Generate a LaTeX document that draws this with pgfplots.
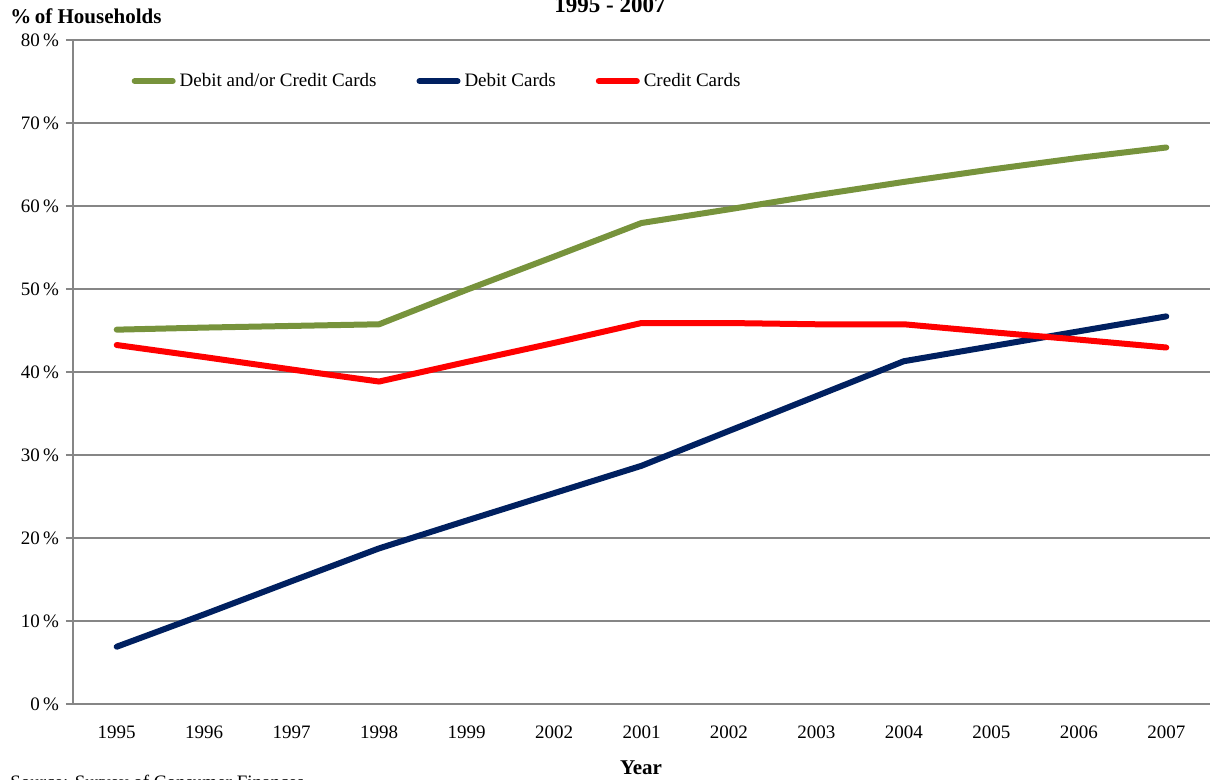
\documentclass[border=0pt]{standalone}
\usepackage{pgfplots}
\pgfplotsset{compat=1.18}
\usepackage{fontspec}
\setmainfont{Liberation Serif}
\definecolor{cgreen}{RGB}{119,147,60}
\definecolor{cnavy}{RGB}{0,32,96}
\definecolor{cred}{RGB}{255,0,0}
\definecolor{cgrid}{RGB}{134,134,134}
\begin{document}
\begin{tikzpicture}
\useasboundingbox (-36.5pt,-38pt) rectangle (570.5pt,352pt);
\clip (-36.5pt,-38pt) rectangle (570.5pt,352pt);
\begin{axis}[
  at={(0,0)}, anchor=south west,
  scale only axis, width=568.5pt, height=332pt,
  xmin=-0.5, xmax=12.5, ymin=0, ymax=80,
  axis lines*=left,
  axis line style={draw=cgrid, line width=1pt},
  xtick={0,1,2,3,4,5,6,7,8,9,10,11,12},
  xticklabels={1995,1996,1997,1998,1999,2002,2001,2002,2003,2004,2005,2006,2007},
  major x tick style={draw=none},
  extra x ticks={-0.5,0.5,1.5,2.5,3.5,4.5,5.5,6.5,7.5,8.5,9.5,10.5,11.5,12.5},
  extra x tick labels={},
  extra x tick style={major tick length=3.5pt, tick style={draw=cgrid, line width=1pt}, grid=none},
  xticklabel style={yshift=-4pt},
  ytick={0,10,...,80},
  yticklabel={\pgfmathprintnumber{\tick}\,\%},
  ymajorgrids,
  grid style={draw=cgrid, line width=1pt},
  tick align=outside,
  major tick length=3.5pt,
  ytick style={draw=cgrid, line width=1pt},
  xtick pos=bottom, ytick pos=left,
  tick label style={font=\fontsize{9.5}{11}\selectfont},
  /pgf/number format/assume math mode=true,
  legend style={at={(0.046,0.938)}, anchor=west, draw=none, fill=none,
    font=\fontsize{9.5}{11}\selectfont, legend columns=3,
    /tikz/every even column/.append style={column sep=18pt}},
  legend cell align=left,
  legend image code/.code={\draw[#1, line cap=round] (0pt,0pt) -- (19pt,0pt);},
]
\addplot[cgreen, line width=3pt, line join=round, line cap=round] coordinates {
(0,45.1) (1,45.35) (2,45.55) (3,45.75) (4,49.9) (5,53.9) (6,57.95) (7,59.6) (8,61.3) (9,62.9) (10,64.4) (11,65.8) (12,67.05)};
\addlegendentry{Debit and/or Credit Cards}
\addplot[cnavy, line width=3pt, line join=round, line cap=round] coordinates {
(0,6.9) (1,10.8) (2,14.8) (3,18.75) (4,22.1) (5,25.4) (6,28.7) (7,32.9) (8,37.1) (9,41.3) (10,43.1) (11,44.9) (12,46.7)};
\addlegendentry{Debit Cards}
\addplot[cred, line width=3pt, line join=round, line cap=round] coordinates {
(0,43.25) (1,41.8) (2,40.3) (3,38.85) (4,41.2) (5,43.5) (6,45.9) (7,45.9) (8,45.75) (9,45.75) (10,44.8) (11,43.9) (12,42.95)};
\addlegendentry{Credit Cards}
\end{axis}
\node[anchor=west, font=\fontsize{10.5}{12}\selectfont\bfseries, inner sep=0pt] at (-31.5pt,344pt) {\%\,of Households};
\node[font=\fontsize{11.5}{13}\selectfont\bfseries, inner sep=0pt] at (268.5pt,349.5pt) {1995 - 2007};
\node[font=\fontsize{10.5}{12}\selectfont\bfseries, inner sep=0pt] at (284pt,-32pt) {Year};
\node[anchor=west, font=\fontsize{9.5}{11}\selectfont, inner sep=0pt] at (-31.5pt,-40pt) {Source: Survey of Consumer Finances};
\end{tikzpicture}
\end{document}
